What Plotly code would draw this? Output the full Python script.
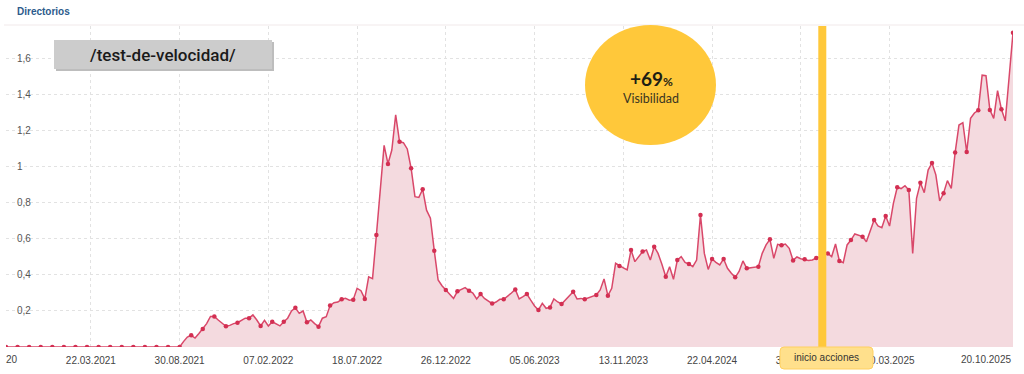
import plotly.graph_objects as go
import pandas as pd

# ---------------- data ----------------
start_date = "2020-10-19"
values = [
    0, 0, 0, 0, 0, 0, 0, 0, 0, 0,
    0, 0, 0, 0, 0, 0, 0, 0, 0, 0,
    0, 0, 0, 0, 0, 0, 0, 0, 0, 0,
    0, 0, 0, 0, 0, 0, 0, 0, 0, 0,
    0, 0, 0, 0, 0, 0, 0.03, 0.055, 0.065, 0.05,
    0.075, 0.10, 0.13, 0.17, 0.17, 0.15, 0.13, 0.115, 0.12, 0.13,
    0.135, 0.15, 0.16, 0.16, 0.178, 0.15, 0.117, 0.148, 0.117, 0.14,
    0.13, 0.117, 0.14, 0.16, 0.2, 0.218, 0.187, 0.2, 0.137, 0.15,
    0.13, 0.113, 0.16, 0.168, 0.23, 0.246, 0.25, 0.265, 0.27, 0.26,
    0.263, 0.326, 0.313, 0.267, 0.39, 0.38, 0.622, 0.87, 1.12, 1.017,
    1.094, 1.289, 1.14, 1.135, 1.10, 0.993, 0.835, 0.831, 0.876, 0.76,
    0.715, 0.535, 0.372, 0.34, 0.317, 0.29, 0.27, 0.309, 0.32, 0.33,
    0.313, 0.3, 0.267, 0.294, 0.27, 0.255, 0.241, 0.25, 0.265, 0.265,
    0.28, 0.3, 0.32, 0.267, 0.28, 0.294, 0.26, 0.228, 0.206, 0.243,
    0.215, 0.22, 0.267, 0.25, 0.239, 0.26, 0.285, 0.307, 0.267, 0.27,
    0.265, 0.272, 0.28, 0.289, 0.317, 0.378, 0.285, 0.326, 0.465, 0.45,
    0.44, 0.428, 0.539, 0.474, 0.5, 0.53, 0.539, 0.483, 0.557, 0.52,
    0.46, 0.39, 0.446, 0.376, 0.483, 0.502, 0.47, 0.461, 0.446, 0.483,
    0.733, 0.52, 0.431, 0.489, 0.47, 0.456, 0.489, 0.437, 0.41, 0.387,
    0.42, 0.478, 0.437, 0.44, 0.442, 0.446, 0.52, 0.567, 0.598, 0.493,
    0.57, 0.565, 0.572, 0.548, 0.481, 0.5, 0.49, 0.487, 0.48, 0.483,
    0.494, 0.5, 0.51, 0.52, 0.502, 0.572, 0.478, 0.468, 0.567, 0.594,
    0.628, 0.62, 0.613, 0.585, 0.65, 0.706, 0.672, 0.663, 0.728, 0.672,
    0.798, 0.887, 0.88, 0.896, 0.872, 0.52, 0.826, 0.912, 0.857, 0.983,
    1.022, 0.956, 0.811, 0.854, 0.924, 0.881, 1.08, 1.233, 1.246, 1.083,
    1.27, 1.30, 1.315, 1.51, 1.507, 1.317, 1.27, 1.424, 1.32, 1.256,
    1.5, 1.746,
]
dates = pd.date_range(start_date, periods=len(values), freq="7D")

tick_dates = ["2021-03-22", "2021-08-30", "2022-02-07", "2022-07-18", "2022-12-26",
              "2023-06-05", "2023-11-13", "2024-04-22", "2024-09-30", "2025-03-10"]
tick_labels = ["22.03.2021", "30.08.2021", "07.02.2022", "18.07.2022", "26.12.2022",
               "05.06.2023", "13.11.2023", "22.04.2024", "30.09.2024", "10.03.2025"]
last_label = "20.10.2025"
first_partial_label = "20"

y_ticks = [0.2, 0.4, 0.6, 0.8, 1.0, 1.2, 1.4, 1.6]
y_labels = ["0,2", "0,4", "0,6", "0,8", "1", "1,2", "1,4", "1,6"]

action_date = "2024-11-08"
action_label = "inicio acciones"
page_label = "/test-de-velocidad/"
section_title = "Directorios"
badge_value = "+69"
badge_text = "Visibilidad"

# ---------------- geometry helpers ----------------
W, H = 1024, 374
L, R, T, B = 6, 1013, 26, 347


def px(x):
    return (x - L) / (R - L)


def py(y):
    return (B - y) / (B - T)


def rounded_rect(x0, y0, x1, y1, r):
    X0, X1 = px(x0), px(x1)
    Y0, Y1 = py(y1), py(y0)  # bottom, top in paper
    rx = r / (R - L)
    ry = r / (B - T)
    return (f"M {X0+rx},{Y0} L {X1-rx},{Y0} Q {X1},{Y0} {X1},{Y0+ry} "
            f"L {X1},{Y1-ry} Q {X1},{Y1} {X1-rx},{Y1} L {X0+rx},{Y1} "
            f"Q {X0},{Y1} {X0},{Y1-ry} L {X0},{Y0+ry} Q {X0},{Y0} {X0+rx},{Y0} Z")


line_color = "#d9486a"
fill_color = "#f4dadf"
marker_color = "#d32f52"
yellow = "#ffc83a"

fig = go.Figure()
fig.add_trace(go.Scatter(
    x=dates, y=values, mode="lines",
    line=dict(color=line_color, width=1.5),
    fill="tozeroy", fillcolor=fill_color,
    hoverinfo="skip", showlegend=False,
))
fig.add_trace(go.Scatter(
    x=dates[::3], y=values[::3], mode="markers",
    marker=dict(color=marker_color, size=4.5),
    hoverinfo="skip", showlegend=False,
))

shapes = [
    # top separator line
    dict(type="line", xref="paper", yref="paper", x0=px(4), x1=px(1024), y0=py(25), y1=py(25),
         line=dict(color="#f1e9ea", width=1), layer="below"),
    # vertical action line
    dict(type="line", xref="x", yref="paper", x0=action_date, x1=action_date, y0=0, y1=1,
         line=dict(color=yellow, width=8), layer="above"),
    # action label box
    dict(type="path", xref="paper", yref="paper", path=rounded_rect(780, 347, 873, 369, 4),
         fillcolor="#ffe08c", line=dict(color="#ffd060", width=1), layer="above"),
    # badge circle
    dict(type="circle", xref="paper", yref="paper", x0=px(585), x1=px(716), y0=py(145), y1=py(25),
         fillcolor=yellow, line=dict(width=0), layer="above"),
    # grey label box shadow + box
    dict(type="rect", xref="paper", yref="paper", x0=px(56), x1=px(274), y0=py(71), y1=py(42),
         fillcolor="#bdbdbd", line=dict(width=0), layer="above"),
    dict(type="rect", xref="paper", yref="paper", x0=px(54), x1=px(272), y0=py(69), y1=py(40),
         fillcolor="#cccccc", line=dict(width=0), layer="above"),
]

annotations = [
    dict(text=f"<b>{section_title}</b>", xref="paper", yref="paper", x=px(15), y=py(12),
         xanchor="left", yanchor="middle", showarrow=False,
         font=dict(family="Liberation Sans, Arial", size=10, color="#2c5b8c")),
    dict(text=page_label, xref="paper", yref="paper", x=px(163), y=py(55),
         xanchor="center", yanchor="middle", showarrow=False,
         font=dict(family="Roboto, Arial", size=17, color="#1a1a1a", weight=500)),
    dict(text=f"<b>{badge_value}<span style='font-size:12px'>%</span></b>", xref="paper", yref="paper",
         x=px(651), y=py(78), xanchor="center", yanchor="middle", showarrow=False,
         font=dict(family="Lato, Arial", size=19, color="#1e1e14")),
    dict(text=badge_text, xref="paper", yref="paper", x=px(651), y=py(98),
         xanchor="center", yanchor="middle", showarrow=False,
         font=dict(family="Lato, Arial", size=12.5, color="#3b3622")),
    dict(text=action_label, xref="paper", yref="paper", x=px(826), y=py(358),
         xanchor="center", yanchor="middle", showarrow=False,
         font=dict(family="Liberation Sans, Arial", size=10, color="#333333")),
    dict(text=last_label, xref="paper", yref="paper", x=px(1013), y=py(360),
         xanchor="right", yanchor="middle", showarrow=False,
         font=dict(family="Liberation Sans, Arial", size=10, color="#444444")),
    dict(text=first_partial_label, xref="paper", yref="paper", x=px(4), y=py(360),
         xanchor="left", yanchor="middle", showarrow=False,
         font=dict(family="Liberation Sans, Arial", size=10, color="#444444")),
]

fig.update_layout(
    width=W, height=H,
    margin=dict(l=L, r=W - R, t=T, b=H - B, pad=0),
    paper_bgcolor="white", plot_bgcolor="white",
    shapes=shapes, annotations=annotations,
    showlegend=False,
)
fig.update_xaxes(
    range=[dates[0], dates[-1]],
    tickmode="array", tickvals=tick_dates, ticktext=tick_labels,
    showgrid=True, gridcolor="#e2e2e2", griddash="dot", gridwidth=1,
    showline=False, zeroline=False, ticks="",
    ticklabelstandoff=6,
    tickfont=dict(family="Liberation Sans, Arial", size=10, color="#444444"),
)
fig.update_yaxes(
    range=[0, 1.783],
    tickmode="array", tickvals=y_ticks, ticktext=y_labels,
    showgrid=True, gridcolor="#e2e2e2", griddash="dot", gridwidth=1,
    showline=False, zeroline=False, ticks="",
    ticklabelposition="inside", ticklabelstandoff=8,
    tickfont=dict(family="Liberation Sans, Arial", size=10, color="#555555"),
)

fig.write_html("out.html", config={"displayModeBar": False},
               post_script="document.body.style.margin='0';")
